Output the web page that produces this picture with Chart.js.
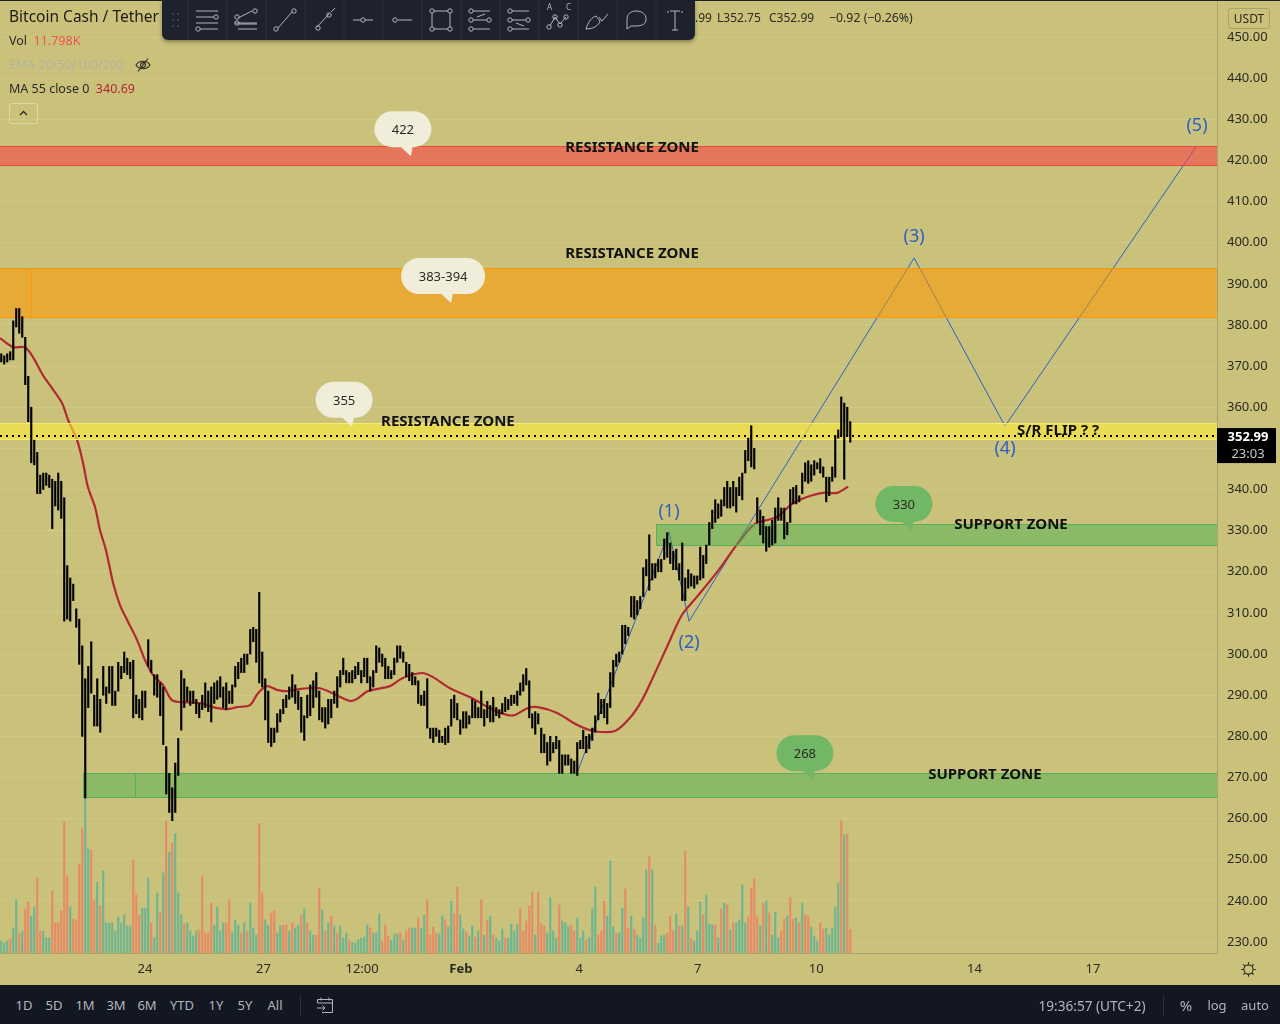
<!DOCTYPE html>
<html>
<head>
<meta charset="utf-8">
<title>Bitcoin Cash / Tether</title>
<script src="https://cdn.jsdelivr.net/npm/chart.js@4/dist/chart.umd.min.js"></script>
<style>
  html, body { margin: 0; width: 1280px; height: 1024px; overflow: hidden; background: #131722; font-family: "Noto Sans", sans-serif; }
  #chart { position: absolute; left: 0; top: 0; background: #cac27b; }
  .t { position: absolute; white-space: nowrap; line-height: 1; }
  #topline { position: absolute; left: 0; top: 0; width: 1280px; height: 1px; background: #1e222d; }
  #toolbar { position: absolute; left: 162px; top: 0; width: 533px; height: 40px; background: #1e222d; border-radius: 0 0 6px 6px; box-shadow: 0 2px 4px rgba(0,0,0,.35); }
  #usdt { position: absolute; left: 1228px; top: 8px; width: 40px; height: 19px; border: 1px solid #a9a26a; border-radius: 3px; font-size: 12px; line-height: 19px; text-align: center; color: #2a2a22; }
  #collapse { position: absolute; left: 9px; top: 103px; width: 27px; height: 19px; border: 1px solid #ddd8a8; border-radius: 3px; }
  .bottom { position: absolute; top: 999px; font-size: 13px; line-height: 1; color: #b2b5be; transform: translateX(-50%); white-space: nowrap; }
  .divider { position: absolute; top: 995px; width: 1px; height: 21px; background: #2a2e39; }
</style>
</head>
<body>
<canvas id="chart" width="1280" height="985"></canvas>
<div id="topline"></div>

<div class="t" style="left:9px;top:9px;font-size:15.5px;color:#1d1d16">Bitcoin Cash / Tether</div>
<div class="t" style="left:695px;top:12px;font-size:12px;color:#2a2a22">.99</div>
<div class="t" style="left:717px;top:12px;font-size:12px;color:#2a2a22">L352.75</div>
<div class="t" style="left:769px;top:12px;font-size:12px;color:#2a2a22">C352.99</div>
<div class="t" style="left:829px;top:12px;font-size:12.3px;color:#2a2a22">−0.92 (−0.26%)</div>
<div class="t" style="left:9px;top:35px;font-size:12.5px;color:#2a2a22">Vol&nbsp; <span style="color:#ef5350">11.798K</span></div>
<div class="t" style="left:9px;top:59px;font-size:12.5px;color:#b4b1a0">EMA 20/50/100/200</div>
<div class="t" style="left:9px;top:83px;font-size:12.5px;color:#2a2a22">MA 55 close 0&nbsp; <span style="color:#b22833">340.69</span></div>
<svg style="position:absolute;left:134px;top:57px" width="18" height="16" fill="none" stroke="#2a2a22" stroke-width="1.1">
  <path d="M2 8 C5 3 13 3 16 8 C13 13 5 13 2 8Z"/><circle cx="9" cy="8" r="2.4"/><path d="M14 1.5 L4 14.5"/>
</svg>
<div id="collapse"><svg width="27" height="19" fill="none" stroke="#2a2a22" stroke-width="1.3"><path d="M10 11 L13.5 7.5 L17 11"/></svg></div>

<div id="toolbar"><svg id="tools" width="533" height="40" fill="none" stroke="#b2b5be" stroke-width="1"></svg></div>
<div id="usdt">USDT</div>

<svg style="position:absolute;left:1240px;top:961px" width="17" height="17" fill="none" stroke="#2a2a22" stroke-width="1.1">
  <circle cx="8.5" cy="8.5" r="4.6"/><path d="M8.5 1.2V3.6M8.5 13.4V15.8M1.2 8.5H3.6M13.4 8.5H15.8M3.3 3.3L5 5M12 12L13.7 13.7M3.3 13.7L5 12M12 5L13.7 3.3"/>
</svg>

<div id="ranges"></div>
<div class="divider" style="left:300px"></div>
<svg style="position:absolute;left:316px;top:996px" width="19" height="18" fill="none" stroke="#b2b5be" stroke-width="1">
  <path d="M1.5 7V3.5H16.5V16.5H6M1.5 7H16.5M5 1.5V4.5M13 1.5V4.5M1 12H9M6.5 9.5L9 12L6.5 14.5"/>
</svg>
<div class="bottom" style="left:1092px;font-size:13.6px">19:36:57 (UTC+2)</div>
<div class="divider" style="left:1163px"></div>
<div class="bottom" style="left:1186px;font-size:15px;top:998px">%</div>
<div class="bottom" style="left:1217px">log</div>
<div class="bottom" style="left:1255px">auto</div>

<script>
// one bar of the chart = 3 screen pixels, x values below are counted in bars

// candle ranges, left to right
const candleHighs = [
  373,372.5,373,373.5,381,384,384,382,377,367.5,
  360,352,349,343.5,344,344,343.5,342.5,342,344,
  342,338,321.5,318.5,317,311,308.5,302,294,297,
  303,290,294,289,297,292,297,297,291,298,
  297,300.5,299,298,298.5,290,289,291,291,303.5,
  298.5,295,295,293,292,277.5,271,267.5,273.5,279.5,
  296,294,292,291,291,289,288,290,293,291,
  292,293,293.5,294.5,292,293,291,292.5,297,298,
  299,300,300,306,306.5,306,315,300.5,294,291,
  282,282,285.5,286.5,289,290,292,295,292.5,291,
  289.5,285,290,292.5,293.5,295.5,291,287,287,289,
  289,291,294.5,296,299,296,295.5,296,297,298,
  296,299,299,294.5,296,302,301.5,300,299,297,
  296,299,302,302,300.5,298,297.5,295.5,294.5,293.5,
  290,291,294,282,282,282,281.5,280,282,282.5,
  289,290,288,284,286,286,285,289,288.5,287,
  291,286.5,288.5,287.5,289.5,287,286.5,288,289.5,289,
  290,290,291,293,295,296.5,293.5,285.5,286,285.5,
  282,280.5,278.5,280,278.5,280,279,275.5,275.5,275.5,
  274.5,274,278.5,279,281.5,280,280.5,282,285,290.5,
  289,289,288,295.5,298.5,300,300.5,307,307,306.5,
  314,314,313,314,321,323,329,322,322,323,
  323,328,329.5,327,325,325.5,322,327,318.5,320.5,
  319.5,319,319,326,324,326.5,332,335,337.5,336.5,
  337.5,340.5,342,340.5,342,340.5,343,344,349.5,352.5,
  355.5,350,338,335,333.5,331,331,332.5,335.5,338,
  335.5,335.5,332,340,340.5,341,338.5,344,346.5,347,
  346,347,346.5,347.5,345.5,343,343,345.5,353,354.5,
  362.5,361,360,356.5
];
const candleLows = [
  371,370.5,371,371.5,371.5,379.5,378,377,365.5,356.5,
  346.5,346,339,339,340,341,340.5,330.5,336,335,
  333,308,308.5,308,313,306.5,297.5,280,265,287,
  290.5,282.5,282.5,281,290,288,290.5,287.5,287.5,291,
  294,295.5,295,294,284.5,285.5,284.5,284,287,297,
  295.5,290,289.5,285,278,266,261.5,259.5,261.5,270.5,
  281.5,287,288.5,287.5,288,285.5,284.5,286.5,287,286,
  283.5,288,289,289.5,287,286.5,288,288,292,294,
  295.5,295.5,297.5,300,303,298,293,292,284,278.5,
  277.5,278.5,281,283.5,285.5,287,289,289.5,288,286.5,
  281,279,284.5,285,287,289.5,284,283.5,282,283,
  284.5,288,287,292,295,293,293,293,294,295,
  293,294.5,293,291,292,295.5,298,297,294,294,
  294,295,298,299,298,294.5,293.5,292.5,292.5,288,
  287.5,287.5,282,279.5,278.5,280,278.5,278.5,278,278.5,
  282.5,284.5,284,280.5,282,282,283,284.5,284.5,284.5,
  284.5,282.5,284.5,283.5,283.5,285,284.5,285.5,286,286.5,
  287.5,288,287.5,290,291,292.5,284.5,282,280.5,283,
  276,276,273,274,276,277,271,271,273,273,
  271,271,270.5,277,277,276,277,279,281,284,
  285.5,284.5,283,287,292,297,298,300,302.5,304.5,
  309,308.5,309.5,311,314,319,315.5,318,318.5,320,
  320,323,323.5,322,320.5,320.5,318,313,313,316,
  316.5,316,317,318,318.5,322,326.5,330.5,332,333,
  333.5,336,335.5,335.5,336,334.5,338.5,337.5,344,347,
  345.5,345,332,329,327,325,326,326.5,327,332.5,
  332.5,328,329,332,336.5,336.5,337,339,342,341.5,
  342,343.5,345,344,343,337,338.5,342,343,352.5,
  353,342.5,353,351.5
];

// volume in thousands, and r = down bar, g = up bar
const volumes = [
  6,5,6,7,12.5,26.5,10,11,22,25.5,
  18.5,23,37.5,11,11,7.5,7.5,31,15,15,
  21,65.5,38.5,23,17,16.5,44.5,62.5,77.5,52,
  51.5,26.5,35.5,23.5,41,15,15,15,11,18,
  15,19,13.5,13.5,46.5,29,19,22.5,22.5,37.5,
  15,7.5,30,20.5,40,66,50.5,55,59.5,30,
  19,14.5,15,11,8.5,11,11.5,38.5,10,10,
  25,14,23,11,15,15,26.5,10,16.5,14,
  10,15,11,25,12.5,9,64.5,30,16.5,14,
  20,21,10,13.5,14,14,11,15,12.5,14,
  19,22,15,11,9,9,32.5,21.5,11,15,
  18.5,13.5,10,13.5,7.5,10,6.5,5.5,5,6.5,
  7.5,8,14,12.5,10,10,19.5,6,14,8.5,
  6.5,9.5,9.5,10,6.5,11,12.5,12.5,12.5,17.5,
  12.5,19,26.5,9,13,10,9.5,18.5,16.5,13,
  26,19.5,33,19,12,10.5,8.5,13.5,8,11,
  26.5,9,16.5,18.5,9,7.5,6,12,7.5,7.5,
  14.5,11,14,22,11,16,23.5,30.5,9,30.5,
  14.5,13.5,10,27.5,11,7.5,24,16,15,13.5,
  14,11,17.5,7.5,11,6.5,7.5,22,33,9,
  11,26,18.5,46,13,10,10,22.5,32,12.5,
  18.5,12,9,7.5,17.5,41.5,48.5,41.5,14,5,
  8.5,9,10,18.5,11,19.5,13.5,13.5,51,23,
  7.5,6,11,25.5,19,29,14.5,14,14,7.5,
  22,25,24,11.5,15,15,16.5,34,15,18,
  32.5,37,18,13.5,25,26,20,9,20.5,7.5,
  11,17,18.5,27.5,17,17.5,15,25,19,18.5,
  13,8.5,6,15,12,12.5,9,12.5,23,35,
  66,59,59.5,11.8
];
const volumeSides =
  'gggrggrgrr' + 'ggrrgggrrr' + 'rrrgrrrrgg' + 'rrgrgggggg' + 'ggggrrrggg' +
  'rggrgrgrgg' + 'grggggrrrr' + 'rggggrrggg' + 'rgrgggrrgg' + 'rrggrrgrgg' +
  'rgrggrrgrg' + 'rgrgggrggg' + 'gggrgggrrr' + 'gggrgrrggr' + 'ggrrrrggrg' +
  'grrggrggrg' + 'rgrgrgggrg' + 'gggrrrrrgr' + 'rrggggrggg' + 'rrgggrgggr' +
  'rrgggrggrr' + 'grggggrgrg' + 'ggrrrgrgrg' + 'rgggrgggrg' + 'rgrgrggggr' +
  'rrrgrgrggg' + 'rrgrrgrgrr' + 'gggrrggggg' + 'rgrr';

// MA 55 close
const maBars = [0,4.3,8.3,11,14.3,17.3,20.7,22.7,25.7,27.7,29.3,31.7,33.3,35.3,37.7,40,42.7,45.7,48.3,51,54.3,57.3,61,66.7,71,75.7,79,83.3,86,89,92.3,95.7,100,106.7,116.7,119,122.7,130,134.3,140.7,144.3,150,157.3,164.3,169,171.7,176,179.3,185.7,192.3,197.7,205,210,214,217.7,222.3,227.3,232.3,239,245,250,252.3,259,264.3,269,274.3,279,282.7];
const maValues = [376.8,374.6,374.6,372.2,367.8,364.7,361,356.9,352,346.4,340.6,335.7,330.2,325.3,317.3,311.9,307.8,303.4,298.6,294.9,292.5,288.8,288.3,288.1,287.1,286.6,287.1,287.6,290.5,292.2,291.3,291,291.5,291.7,288.6,289.1,291,292.2,294.2,295.4,294.4,291.7,289.3,286.4,285.2,285.2,286.9,287.1,285.7,282.8,281.3,281.3,284.5,288.8,294.4,301.7,309.5,313.9,319.9,326,330.6,331.9,333.3,336.7,338.2,339.2,339.2,340.69];

// the drawn wave count
const waveBars = [192.3,223,229.7,304.7,335,398.7];
const wavePrices = [271,329.7,308,396.3,355.4,423.3];
const waveNames = ['(1)','(2)','(3)','(4)','(5)'];
const waveNameBars = [223,229.7,304.7,335,399];
const waveNamePrices = [334.8,302.9,401.6,350.1,428.6];

const lastPrice = 352.99;
const countdown = '23:03';

// zones: low / high price and the bar where each one starts
const zoneLows = [418.9,381.9,352.3,326.5,265.3];
const zoneHighs = [423.5,393.8,356.2,331.7,271];
const zoneStarts = [0,0,0,218.7,27.7];
const zoneSeams = [null,10.3,null,null,45];

const zoneTexts = ['RESISTANCE ZONE','RESISTANCE ZONE','RESISTANCE ZONE','SUPPORT ZONE','SUPPORT ZONE','S/R FLIP ? ?'];
const zoneTextBars = [210.7,210.7,149.3,337,328.3,352.7];
const zoneTextPrices = [423.3,397.5,356.7,331.6,270.8,354.5];

const bubbleTexts = ['422','383-394','355','330','268'];
const bubbleBars = [134.3,147.7,114.7,301.3,268.3];
const bubblePrices = [427.6,391.9,361.8,336.5,275.9];

const priceTicks = [230,240,250,260,270,280,290,300,310,320,330,340,350,360,370,380,390,400,410,420,430,440,450];
const timeTickBars = [48.3,87.8,120.7,153.6,193.1,232.6,272.1,324.8,364.3];
const timeTickLabels = ['24','27','12:00','Feb','4','7','10','14','17'];

const rangeLabels = ['1D','5D','1M','3M','6M','YTD','1Y','5Y','All'];
const rangeCenters = [24,54,85,116,147,182,216,245,275];

const BAR_OFFSET = 1.25 / 3;
const FONT = '"Noto Sans", sans-serif';
const zoneStyles = [
  { fill: 'rgba(244,67,70,.6)', line: '#f44336' },
  { fill: 'rgba(255,152,0,.55)', line: '#ff9800' },
  { fill: 'rgba(255,235,59,.6)', line: '#f5ec70' },
  { fill: 'rgba(76,175,80,.5)', line: '#55b25a' },
  { fill: 'rgba(76,175,80,.5)', line: '#55b25a' }
];

// zones sit above the MA and the wave lines but under the candles
const zonePlugin = {
  id: 'zones',
  beforeDatasetDraw(chart, args) {
    if (chart.data.datasets[args.index].label !== 'Candles') return;
    const { ctx, chartArea, scales } = chart;
    ctx.save();
    ctx.beginPath();
    ctx.rect(chartArea.left, chartArea.top, chartArea.width, chartArea.height);
    ctx.clip();
    zoneLows.forEach((low, i) => {
      const x0 = scales.x.getPixelForValue(zoneStarts[i]);
      const left = zoneStarts[i] === 0 ? -4 : Math.round(x0) + 0.5;
      const top = Math.round(scales.y.getPixelForValue(zoneHighs[i])) + 0.5;
      const bottom = Math.round(scales.y.getPixelForValue(low)) + 0.5;
      ctx.fillStyle = zoneStyles[i].fill;
      ctx.fillRect(left, top, chartArea.right + 4 - left, bottom - top);
      ctx.strokeStyle = zoneStyles[i].line;
      ctx.lineWidth = 1;
      ctx.strokeRect(left, top, chartArea.right + 4 - left, bottom - top);
      if (zoneSeams[i] !== null) {
        const sx = Math.round(scales.x.getPixelForValue(zoneSeams[i])) + 0.5;
        ctx.beginPath();
        ctx.moveTo(sx, top);
        ctx.lineTo(sx, bottom);
        ctx.stroke();
      }
    });
    ctx.restore();
  }
};

// speech bubbles, zone names, wave numbers and the price tag
const notesPlugin = {
  id: 'notes',
  afterDraw(chart) {
    const { ctx, scales } = chart;
    ctx.save();
    ctx.textAlign = 'center';
    ctx.textBaseline = 'middle';

    bubbleTexts.forEach((text, i) => {
      const cx = scales.x.getPixelForValue(bubbleBars[i]);
      const cy = scales.y.getPixelForValue(bubblePrices[i]);
      const green = i > 2;
      const w = text.length > 3 ? 84 : 57;
      ctx.fillStyle = green ? '#72b765' : '#f0eedb';
      ctx.beginPath();
      ctx.roundRect(cx - w / 2, cy - 18, w, 36, 18);
      ctx.fill();
      ctx.beginPath();
      ctx.moveTo(cx - 4, cy + 16);
      ctx.lineTo(cx + 10, cy + 16);
      ctx.lineTo(cx + 8, cy + 27);
      ctx.closePath();
      ctx.fill();
      ctx.fillStyle = '#2a2a22';
      ctx.font = '13px ' + FONT;
      ctx.fillText(text, cx, cy + 1);
    });

    ctx.fillStyle = '#111';
    ctx.font = 'bold 15px ' + FONT;
    zoneTexts.forEach((text, i) => {
      ctx.fillText(text, scales.x.getPixelForValue(zoneTextBars[i]), scales.y.getPixelForValue(zoneTextPrices[i]) + 1);
    });

    ctx.fillStyle = '#2b5fc4';
    ctx.font = '18px ' + FONT;
    waveNames.forEach((text, i) => {
      ctx.fillText(text, scales.x.getPixelForValue(waveNameBars[i]), scales.y.getPixelForValue(waveNamePrices[i]) + 1);
    });

    // last price tag on the axis
    const py = scales.y.getPixelForValue(lastPrice);
    ctx.fillStyle = '#000';
    ctx.fillRect(1217, py - 8, 59, 35);
    ctx.fillStyle = '#fff';
    ctx.font = 'bold 13px ' + FONT;
    ctx.fillText(lastPrice.toFixed(2), 1248, py + 1);
    ctx.fillStyle = '#c8c8c8';
    ctx.font = '13px ' + FONT;
    ctx.fillText(countdown, 1248, py + 18);
    ctx.restore();
  }
};

new Chart(document.getElementById('chart'), {
  type: 'bar',
  data: {
    datasets: [
      {
        label: 'Volume',
        yAxisID: 'y1',
        order: 6,
        grouped: false,
        barThickness: 1.5,
        data: volumes.map((v, i) => ({ x: i + BAR_OFFSET, y: v })),
        backgroundColor: volumes.map((v, i) => volumeSides[i] === 'r' ? '#e88a66' : '#6eb592')
      },
      {
        type: 'line',
        label: 'Waves',
        order: 5,
        data: waveBars.map((b, i) => ({ x: b, y: wavePrices[i] })),
        borderColor: '#2b5fc4',
        borderWidth: 1,
        pointRadius: 0
      },
      {
        type: 'line',
        label: 'MA 55',
        order: 4,
        data: maBars.map((b, i) => ({ x: b, y: maValues[i] })),
        borderColor: '#b22833',
        borderWidth: 2.2,
        pointRadius: 0,
        tension: 0.3
      },
      {
        label: 'Candles',
        order: 2,
        grouped: false,
        barThickness: 1.5,
        data: candleHighs.map((h, i) => ({ x: i + BAR_OFFSET, y: [candleLows[i], h] })),
        backgroundColor: '#000'
      },
      {
        type: 'line',
        label: 'Last',
        order: 1,
        data: [{ x: 0, y: lastPrice }, { x: 1217 / 3, y: lastPrice }],
        borderColor: '#000',
        borderWidth: 2,
        borderDash: [2, 4],
        pointRadius: 0
      }
    ]
  },
  options: {
    responsive: false,
    animation: false,
    events: [],
    layout: { padding: 0 },
    plugins: { legend: { display: false }, tooltip: { enabled: false } },
    scales: {
      x: {
        type: 'linear',
        offset: false,
        min: 0,
        max: 1217 / 3,
        afterBuildTicks: (s) => { s.ticks = timeTickBars.map((v) => ({ value: v })); },
        afterFit: (s) => { s.height = 32; s.paddingLeft = 0; s.paddingRight = 0; },
        grid: { color: 'transparent', drawTicks: false },
        border: { color: '#aaa36c' },
        ticks: {
          autoSkip: false,
          maxRotation: 0,
          padding: 8,
          color: '#2a2a22',
          font: (c) => ({ family: FONT, size: 13, weight: c.tick && timeTickBars.indexOf(c.tick.value) === 3 ? 'bold' : 'normal' }),
          callback: (v) => timeTickLabels[timeTickBars.indexOf(v)]
        }
      },
      y: {
        position: 'right',
        min: 227.33,
        max: 459,
        afterBuildTicks: (s) => { s.ticks = priceTicks.map((v) => ({ value: v })); },
        afterFit: (s) => { s.width = 63; s.paddingTop = 0; s.paddingBottom = 0; },
        grid: { color: 'rgba(255,255,255,.09)', drawTicks: false },
        border: { color: '#aaa36c' },
        ticks: {
          autoSkip: false,
          padding: 10,
          color: '#2a2a22',
          font: { family: FONT, size: 13 },
          callback: (v) => v.toFixed(2)
        }
      },
      y1: { display: false, min: 0, max: 476 }
    }
  },
  plugins: [zonePlugin, notesPlugin]
});

// bottom bar range buttons
document.getElementById('ranges').innerHTML = rangeLabels
  .map((label, i) => `<div class="bottom" style="left:${rangeCenters[i]}px">${label}</div>`)
  .join('');

// drawing toolbar icons, one 39px cell each
const node = (x, y) => `<circle cx="${x}" cy="${y}" r="2.2"/>`;
const icons = [
  `<path d="M-11 -9H11M-11 -3H7M-11 3H11M-7 9H11"/>` + node(9, -3) + node(-9, 9),
  `<path d="M-8 -2L6 -9M-8 4H11M-8 9H11M-11 3H11"/>` + node(-9, -3) + node(9, -9) + node(-9, 3),
  `<path d="M-7 8L7 -8"/>` + node(-9, 9) + node(9, -9),
  `<path d="M-7 7L5 -6M7 -8L11 -12"/>` + node(-6, 8) + node(5, -5),
  `<path d="M-10 0H-2M2 0H10"/>` + node(0, 0),
  `<path d="M-4 0H10"/>` + node(-7, 0),
  `<path d="M-7 -9H7M-7 9H7M-9 -7V7M9 -7V7"/>` + node(-9, -9) + node(9, -9) + node(-9, 9) + node(9, 9),
  `<path d="M-7 -9H10M-7 9H10M-7 0H7M-3 -3L5 -6" />` + node(-9, -9) + node(9, 0) + node(-9, 0) + node(-9, 9),
  `<path d="M-7 -9H10M-7 9H10M-7 0H7M-3 3L5 6" />` + node(-9, -9) + node(9, 0) + node(-9, 0) + node(-9, 9),
  `<path d="M-8 6L-3 -3L2 4L8 -3"/>` + node(-9, 7) + node(-3, -3) + node(2, 5) + node(8, -3),
  `<path d="M-11 9C-9 2 -5 -3 -1 -4L3 1C2 5 -3 9 -11 9ZM2 -3L5 1L11 -6"/>`,
  `<path d="M-9 9V-1C-9 -6 -5 -9 0 -9C6 -9 10 -6 10 -1C10 4 6 6 0 6H-5Z"/>`,
  `<path d="M-5 -9H5M0 -9V10M-3 10H3M-7 -9V-7M7 -9V-7"/>`
];
document.getElementById('tools').innerHTML =
  [0, 1].map((c) => [0, 1, 2].map((r) => `<circle cx="${11 + c * 5}" cy="${14 + r * 6}" r="1" fill="#4a4e5a" stroke="none"/>`).join('')).join('') +
  icons.map((icon, i) => `<line x1="${26 + i * 39}" y1="0" x2="${26 + i * 39}" y2="40" stroke="#2a2e39"/><g transform="translate(${45 + i * 39},20)">${icon}</g>`).join('') +
  `<text x="385" y="10" font-size="8" fill="#b2b5be" stroke="none" font-family="Noto Sans">A</text><text x="404" y="10" font-size="8" fill="#b2b5be" stroke="none" font-family="Noto Sans">C</text>`;
</script>
</body>
</html>
